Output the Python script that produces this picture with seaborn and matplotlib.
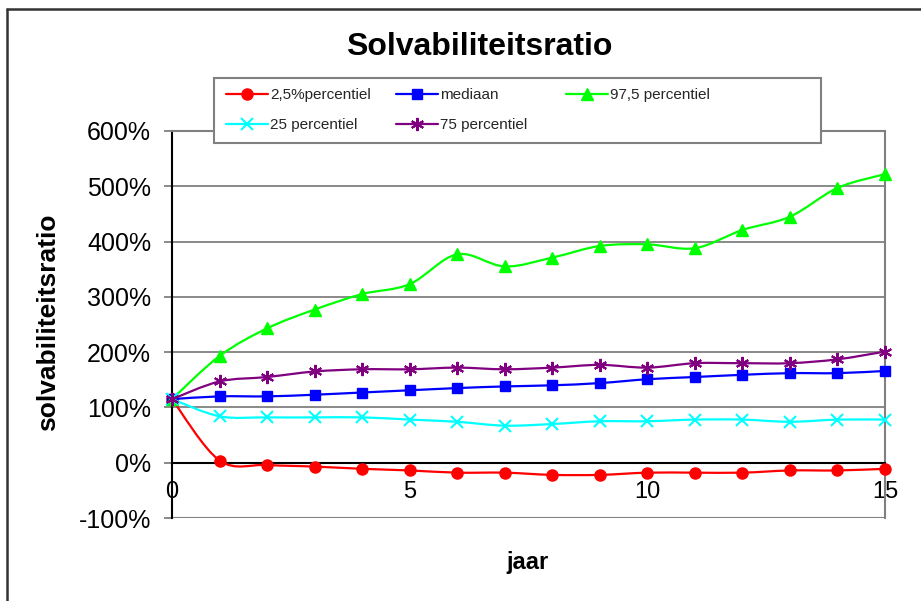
import numpy as np
import pandas as pd
import matplotlib
matplotlib.use("Agg")
import matplotlib.pyplot as plt
import seaborn as sns
from matplotlib.path import Path
from matplotlib.patches import PathPatch, Rectangle
from matplotlib.lines import Line2D
from matplotlib.ticker import FuncFormatter, MultipleLocator, FixedLocator

# ---------------- data ----------------
years = list(range(16))
p2_5 = [115, 4, -4, -7, -11, -14, -18, -18, -22, -22, -18, -18, -18, -14, -14, -11]
mediaan = [115, 120, 120, 123, 127, 131, 135, 138, 140, 144, 151, 155, 159, 162, 162, 166]
p97_5 = [115, 193, 243, 277, 305, 323, 377, 355, 371, 392, 395, 388, 421, 445, 497, 522]
p25 = [115, 84, 82, 82, 82, 78, 74, 67, 70, 75, 75, 78, 78, 74, 78, 78]
p75 = [115, 147, 155, 165, 169, 169, 172, 169, 172, 177, 172, 180, 180, 180, 187, 201]

labels = ["2,5%percentiel", "mediaan", "97,5 percentiel", "25 percentiel", "75 percentiel"]
series = [p2_5, mediaan, p97_5, p25, p75]
colors = ["#FF0000", "#0000FF", "#00FF00", "#00FFFF", "#800080"]
markers = ["o", "s", "^", "x", (6, 2, 0)]
msizes = [8, 7.5, 8.5, 8.5, 9.5]
mews = [1, 1, 1, 1.5, 1.5]

title = "Solvabiliteitsratio"
ylabel = "solvabiliteitsratio"
xlabel = "jaar"
xticks = [0, 5, 10, 15]

# ---------------- style ----------------
sns.set_theme(style="white")
plt.rcParams["font.family"] = ["Liberation Sans", "DejaVu Sans"]

W, H = 921, 601
fig = plt.figure(figsize=(W / 100, H / 100), dpi=100)
fig.patch.set_facecolor("white")

L, R, T, B = 172, 885, 131, 518
ax = fig.add_axes([L / W, 1 - B / H, (R - L) / W, (B - T) / H])
ax.set_facecolor("white")


def smooth_path(xs, ys):
    pts = np.column_stack([xs, ys]).astype(float)
    n = len(pts)
    verts = [pts[0]]
    codes = [Path.MOVETO]
    for i in range(n - 1):
        p0 = pts[i - 1] if i > 0 else pts[i]
        p1 = pts[i]
        p2 = pts[i + 1]
        p3 = pts[i + 2] if i + 2 < n else pts[i + 1]
        c1 = p1 + (p2 - p0) / 6.0
        c2 = p2 - (p3 - p1) / 6.0
        verts += [c1, c2, p2]
        codes += [Path.CURVE4] * 3
    return Path(verts, codes)


for k, (vals, c, m, ms, mw) in enumerate(zip(series, colors, markers, msizes, mews)):
    patch = PathPatch(smooth_path(years, vals), facecolor="none", edgecolor=c,
                      lw=1.6, zorder=3 + k * 0.1, capstyle="round", joinstyle="round")
    ax.add_patch(patch)
    sns.lineplot(x=years, y=vals, ax=ax, color=c, marker=m, markersize=ms,
                 markeredgecolor=c, markerfacecolor=c, markeredgewidth=mw,
                 linestyle="none", errorbar=None, legend=False, clip_on=False,
                 zorder=3.05 + k * 0.1)

ax.set_xlim(0, 15)
ax.set_ylim(-100, 600)
ax.set_xlabel("")
ax.set_ylabel("")

# grid
ax.yaxis.set_major_locator(MultipleLocator(100))
ax.yaxis.set_major_formatter(FuncFormatter(lambda v, p: f"{v:.0f}%"))
ax.grid(axis="y", color="#808080", lw=1.3)
ax.grid(axis="x", visible=False)
ax.set_axisbelow(True)

# spines
for s in ["top", "right"]:
    ax.spines[s].set_color("#808080")
    ax.spines[s].set_linewidth(1.5)
ax.spines["left"].set_color("black")
ax.spines["left"].set_linewidth(1.5)
ax.spines["bottom"].set_position(("data", 0))
ax.spines["bottom"].set_color("black")
ax.spines["bottom"].set_linewidth(1.5)
ax.spines["bottom"].set_zorder(2.5)
ax.axhline(-100, color="#808080", lw=1.5, zorder=1)

ax.xaxis.set_major_locator(FixedLocator(xticks))
ax.set_xticklabels([str(t) for t in xticks])
ax.tick_params(axis="x", direction="inout", length=5, width=1, color="black",
               labelsize=17, pad=11, labelcolor="black")
ax.tick_params(axis="y", direction="out", length=6, width=1.3, color="#808080",
               labelsize=18, pad=9, labelcolor="black", left=True)

# texts
fig.text(479 / W, 1 - 47 / H, title, ha="center", va="center",
         fontsize=23, fontweight="bold", color="black")
fig.text(48 / W, 1 - 322 / H, ylabel, ha="center", va="center", rotation=90,
         fontsize=19, fontweight="bold", color="black")
fig.text(527 / W, 1 - 562 / H, xlabel, ha="center", va="center",
         fontsize=17, fontweight="bold", color="black")

# legend box
box = Rectangle((214 / W, 1 - 143 / H), 607 / W, 65 / H, transform=fig.transFigure,
                facecolor="white", edgecolor="#808080", lw=1.5, zorder=4)
fig.add_artist(box)

handles = [Line2D([], [], color=c, marker=m, markersize=ms, markeredgewidth=mw,
                  markerfacecolor=c, markeredgecolor=c, lw=1.6)
           for c, m, ms, mw in zip(colors, markers, msizes, mews)]
cols = [[0, 3], [1, 4], [2]]
col_x = [226, 396, 566]
for idxs, cx in zip(cols, col_x):
    leg = fig.legend([handles[i] for i in idxs], [labels[i] for i in idxs],
                     loc="upper left", bbox_to_anchor=(cx / W, 1 - 88 / H),
                     frameon=False, fontsize=11, handlelength=2.75,
                     handletextpad=0.15, labelspacing=1.05, borderpad=0,
                     borderaxespad=0)
    leg.set_zorder(5)

# outer border (top and left)
fig.add_artist(Line2D([6.5 / W, 1], [1 - 8.5 / H, 1 - 8.5 / H], transform=fig.transFigure,
                      color="#333333", lw=1.8))
fig.add_artist(Line2D([6.5 / W, 6.5 / W], [0, 1 - 8.5 / H], transform=fig.transFigure,
                      color="#333333", lw=1.8))

fig.savefig("out.png", dpi=100, facecolor="white")
